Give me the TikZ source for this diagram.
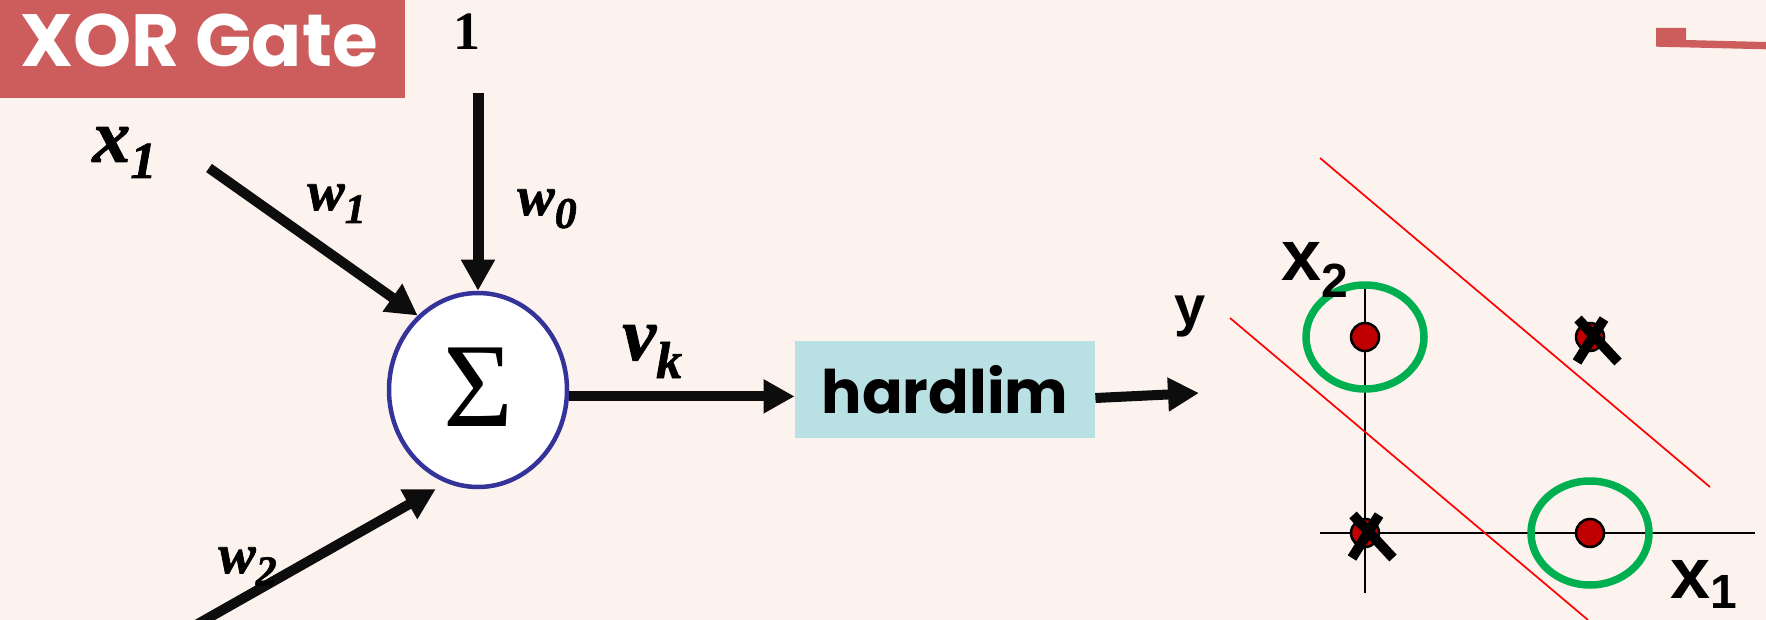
\documentclass[tikz,border=0pt]{standalone}
\usepackage{fontspec}
\usetikzlibrary{arrows.meta,shapes.geometric}
\newfontfamily\serifTNR{Liberation Serif}
\newfontfamily\serifBI{Liberation Serif Bold Italic}[FakeBold=1.3]
\newfontfamily\sansArial{Liberation Sans}
\newfontfamily\geoSans{Poppins}
\newcommand{\fsz}[1]{\fontsize{#1}{#1}\selectfont}
\definecolor{bg}{HTML}{FDF3EE}
\definecolor{titlered}{HTML}{CD5C5C}
\definecolor{boxcyan}{HTML}{B9E0E3}
\definecolor{ellblue}{HTML}{333399}
\definecolor{dotred}{HTML}{C00000}
\definecolor{ringgreen}{HTML}{00B050}
\definecolor{arrowblack}{HTML}{0D0D0D}
\begin{document}
\begin{tikzpicture}[x=0.5pt,y=-0.5pt,
  wire/.style={line width=5pt, draw=arrowblack, -{Triangle[length=15.5pt,width=16pt]}},
  mathlab/.style={anchor=base west, inner sep=0pt, font=\serifBI, text=black},
  sanslab/.style={anchor=base west, inner sep=0pt, font=\sansArial\bfseries, text=black},
  axisline/.style={line width=0.9pt, draw=black},
  sepline/.style={line width=0.85pt, draw=red},
  ring/.style={line width=3.75pt, draw=ringgreen},
  dot/.style={fill=dotred, draw=black, line width=1.25pt},
  xcross/.pic={
    \draw[line width=5pt, draw=black] (-12,-18) -- (28,25);
    \draw[line width=5pt, draw=black] (14,-18) -- (-13,25);
  }
]
\useasboundingbox (0,0) rectangle (1766,620);
\clip (0,0) rectangle (1766,620);
\fill[bg] (0,0) rectangle (1766,620);

% title
\node (titlebox) [fill=titlered, anchor=north west, minimum width=202.5pt, minimum height=49pt, inner sep=0pt] at (0,0) {};
\node (titletext) [anchor=base west, inner sep=0pt, text=white, font=\geoSans\bfseries\fsz{37}] at (20,67) {XOR Gate};
\fill[titlered] (1656,28) -- (1686,28) -- (1686,40) -- (1766,42) -- (1766,49.3) -- (1656,46.7) -- cycle;

% neuron
\node (sigma) [ellipse, draw=ellblue, line width=2.25pt, fill=white, minimum width=89pt, minimum height=97pt, inner sep=0pt] at (478,390) {\raisebox{2.5pt}{\serifTNR\fsz{60}Σ}};
\node (hl) [fill=boxcyan, minimum width=150pt, minimum height=48.5pt, inner sep=0pt, font=\geoSans\bfseries\fsz{30}] at (945,389.5) {hardlim};

\coordinate (in1) at (209,168);
\coordinate (in0) at (478,93);
\coordinate (in2) at (196,625);
\coordinate (yout) at (1199,393);

\draw[wire] (in1) -- (sigma.129);
\draw[wire, line width=5.5pt] (in0) -- (sigma.north);
\draw[wire] (in2) -- ([xshift=-2pt,yshift=-4.5pt]sigma.247);
\draw[wire] (sigma.-4) -- (sigma.-4 -| hl.west);
\draw[wire] ([yshift=-4.25pt]hl.east) -- (yout);

% labels
\node (one) [anchor=base, inner sep=0pt, font=\serifTNR\bfseries\fsz{27}] at (467,50) {1};
\node (lx1) [mathlab] at (92,162) {\fsz{38}x\raisebox{-8pt}{\fsz{26}1}};
\node (lw1) [mathlab] at (307,210) {\fsz{28}w\raisebox{-6.5pt}{\fsz{21}1}};
\node (lw0) [mathlab] at (517,215) {\fsz{28}w\raisebox{-6.5pt}{\fsz{22}0}};
\node (lw2) [mathlab] at (218,573) {\fsz{28}w\raisebox{-6pt}{\fsz{21}2}};
\node (lvk) [mathlab] at (622,360) {\fsz{38}v\raisebox{-9pt}{\fsz{26}k}};
\node (ly) [sanslab, font=\sansArial\bfseries\fsz{28}] at (1174,325) {y};

% plot
\coordinate (o) at (1365,533);
\coordinate (p10) at (1590,533);
\coordinate (p01) at (1365,337);
\coordinate (p11) at (1590,337);
\draw[axisline] (1365,282) -- (1365,593);
\draw[axisline] (1320,533) -- (1755,533);
\draw[sepline] (1320,158) -- (1710,487);
\draw[sepline] (1230,318) -- (1588,620);
\draw[ring] (p01) ellipse [x radius=29.5pt, y radius=26pt];
\draw[ring] (p10) ellipse [x radius=29.5pt, y radius=26pt];
\filldraw[dot] (o) circle [radius=7pt];
\filldraw[dot] (p10) circle [radius=7pt];
\filldraw[dot] (p01) circle [radius=7pt];
\filldraw[dot] (p11) circle [radius=7pt];
\pic at (o) {xcross};
\pic at (p11) {xcross};
\node (lx2) [sanslab, font=\sansArial\bfseries\fsz{36}] at (1281,280) {x\raisebox{-9pt}{\fsz{24}2}};
\node (lx1r) [sanslab, font=\sansArial\bfseries\fsz{36}] at (1670,598) {x\raisebox{-5pt}{\fsz{24}1}};
\end{tikzpicture}
\end{document}
